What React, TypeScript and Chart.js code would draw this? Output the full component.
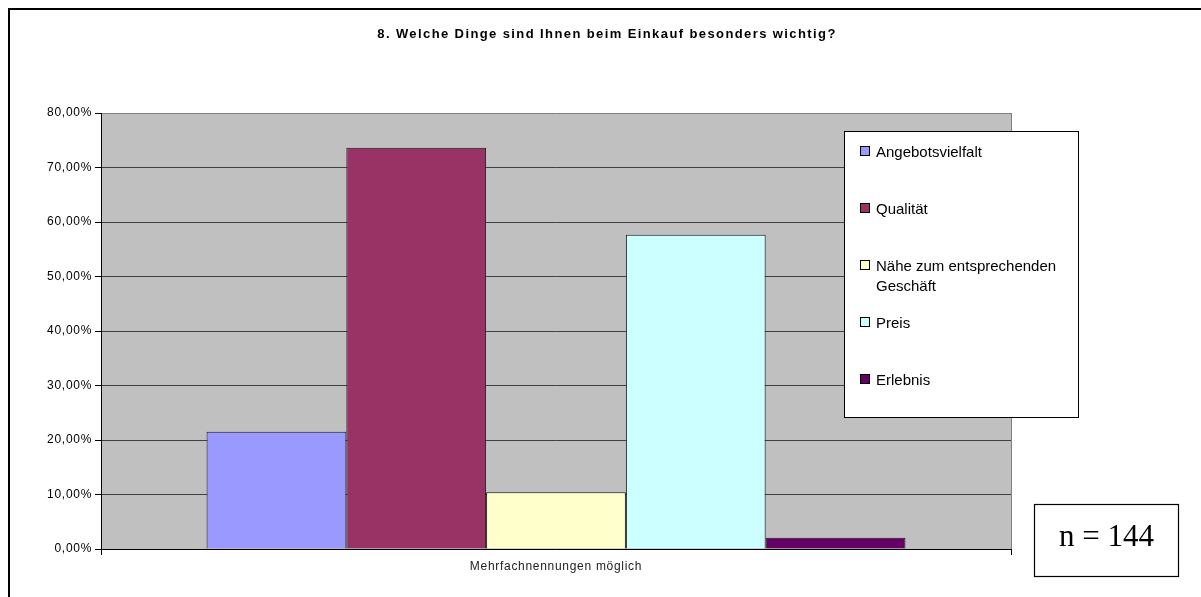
import React, { useEffect, useRef } from "react";
import { Chart, registerables } from "chart.js";

Chart.register(...registerables);

const chartTitle = "8. Welche Dinge sind Ihnen beim Einkauf besonders wichtig?";
const categories = ["Mehrfachnennungen möglich"];
const seriesNames = [
  "Angebotsvielfalt",
  "Qualität",
  "Nähe zum entsprechenden Geschäft",
  "Preis",
  "Erlebnis",
];
const seriesValues = [21.53, 73.61, 10.42, 57.64, 2.08];
const seriesColors = ["#9999FF", "#993366", "#FFFFCC", "#CCFFFF", "#660066"];
const yTickValues = [0, 10, 20, 30, 40, 50, 60, 70, 80];
const yTickLabels = [
  "0,00%",
  "10,00%",
  "20,00%",
  "30,00%",
  "40,00%",
  "50,00%",
  "60,00%",
  "70,00%",
  "80,00%",
];
const sampleNote = "n = 144";

const SANS = '"Liberation Sans", Arial, sans-serif';
const SERIF = '"Liberation Serif", "Times New Roman", serif';

function wrapText(ctx: CanvasRenderingContext2D, text: string, maxWidth: number): string[] {
  const words = text.split(" ");
  const lines: string[] = [];
  let cur = "";
  for (const w of words) {
    const test = cur ? cur + " " + w : w;
    if (cur && ctx.measureText(test).width > maxWidth) {
      lines.push(cur);
      cur = w;
    } else {
      cur = test;
    }
  }
  if (cur) lines.push(cur);
  return lines;
}

const decorPlugin = {
  id: "decor",
  beforeDraw(chart: any) {
    const { ctx, chartArea: a } = chart;
    ctx.save();
    ctx.fillStyle = "#ffffff";
    ctx.fillRect(0, 0, chart.width, chart.height);
    ctx.fillStyle = "#C0C0C0";
    ctx.fillRect(a.left, a.top, a.right - a.left, a.bottom - a.top);
    ctx.restore();
    ctx.letterSpacing = "0.7px";
  },
  afterDraw(chart: any) {
    const ctx: CanvasRenderingContext2D = chart.ctx;
    ctx.save();
    (ctx as any).letterSpacing = "0px";

    // outer frame (cut off at right/bottom)
    ctx.fillStyle = "#000";
    ctx.fillRect(8, 8, chart.width - 8, 2);
    ctx.fillRect(8, 8, 2, chart.height - 8);

    // title
    ctx.font = "bold 13px " + SANS;
    (ctx as any).letterSpacing = "1.4px";
    ctx.textAlign = "center";
    ctx.textBaseline = "alphabetic";
    ctx.fillStyle = "#000";
    ctx.fillText(chartTitle, 607, 38);
    (ctx as any).letterSpacing = "0px";

    // legend box
    const lx = 844.5, ly = 131.5, lw = 234, lh = 286;
    ctx.fillStyle = "#fff";
    ctx.fillRect(lx, ly, lw, lh);
    ctx.strokeStyle = "#000";
    ctx.lineWidth = 1;
    ctx.strokeRect(lx, ly, lw, lh);
    ctx.font = "15px " + SANS;
    ctx.textAlign = "left";
    ctx.textBaseline = "alphabetic";
    chart.data.datasets.forEach((ds: any, i: number) => {
      const cy = 151 + i * 57;
      ctx.fillStyle = ds.backgroundColor;
      ctx.fillRect(860.5, cy - 4.5, 9, 9);
      ctx.strokeStyle = "#000";
      ctx.strokeRect(860.5, cy - 4.5, 9, 9);
      ctx.fillStyle = "#000";
      const lines = wrapText(ctx, ds.label, 198);
      lines.forEach((ln, j) => ctx.fillText(ln, 876, cy + 5.5 + j * 20));
    });

    // n box
    ctx.fillStyle = "#fff";
    ctx.fillRect(1034.5, 504.5, 144, 72);
    ctx.strokeStyle = "#000";
    ctx.lineWidth = 1.2;
    ctx.strokeRect(1034.5, 504.5, 144, 72);
    ctx.font = "31px " + SERIF;
    ctx.textAlign = "center";
    ctx.fillStyle = "#000";
    ctx.fillText(sampleNote, 1106.5, 546);

    ctx.restore();
  },
};

export default function App() {
  const canvasRef = useRef<HTMLCanvasElement | null>(null);

  useEffect(() => {
    const canvas = canvasRef.current;
    if (!canvas) return;
    const chart = new Chart(canvas, {
      type: "bar",
      data: {
        labels: categories,
        datasets: seriesNames.map((name, i) => ({
          label: name,
          data: [seriesValues[i]],
          backgroundColor: seriesColors[i],
          borderColor: "#1a1a1a",
          borderWidth: 1,
          categoryPercentage: 0.768,
          barPercentage: 1,
        })),
      },
      options: {
        responsive: false,
        animation: false,
        devicePixelRatio: 1,
        layout: { padding: { left: 0, right: 190, top: 113, bottom: 0 } },
        plugins: {
          legend: { display: false },
          title: { display: false },
          tooltip: { enabled: false },
        },
        scales: {
          x: {
            grid: {
              offset: true,
              color: "#808080",
              tickColor: "#000",
              tickLength: 6,
              drawTicks: true,
            },
            border: { color: "#000", width: 1 },
            ticks: {
              color: "#222",
              padding: 4,
              font: { family: SANS, size: 12 },
            },
            afterFit: (s: any) => {
              s.height = 48;
            },
          },
          y: {
            min: 0,
            max: 80,
            ticks: {
              stepSize: 10,
              padding: 3,
              color: "#000",
              font: { family: SANS, size: 12 },
              callback: (value: any) => {
                const idx = yTickValues.indexOf(Number(value));
                return idx >= 0 ? yTickLabels[idx] : "";
              },
            },
            grid: {
              color: (c: any) => (c.tick && c.tick.value === 80 ? "#808080" : "#404040"),
              tickColor: "#000",
              tickLength: 6,
            },
            border: { color: "#000", width: 1 },
            afterFit: (s: any) => {
              s.width = 101;
            },
          },
        },
      },
      plugins: [decorPlugin],
    });
    return () => chart.destroy();
  }, []);

  return (
    <div
      style={{
        position: "fixed",
        left: 0,
        top: 0,
        width: 1201,
        height: 597,
        overflow: "hidden",
        background: "#fff",
      }}
    >
      <canvas ref={canvasRef} width={1201} height={597} style={{ width: 1201, height: 597, display: "block" }} />
    </div>
  );
}
